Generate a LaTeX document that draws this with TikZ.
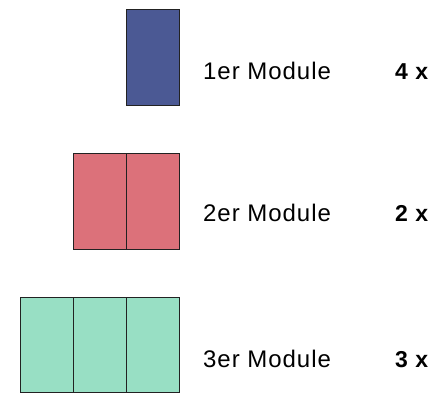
\documentclass[tikz,border=0pt]{standalone}
\usepackage{fontspec}
\setmainfont{Liberation Sans}
\newfontfamily\spaced[LetterSpace=4]{Liberation Sans}
\definecolor{modblue}{HTML}{4B5994}
\definecolor{modred}{HTML}{DC717A}
\definecolor{modgreen}{HTML}{98DFC4}
\definecolor{edge}{HTML}{222222}
\tikzset{
  cell/.style={draw=edge, line width=1pt},
  lbl/.style={anchor=base west, inner sep=0pt, font=\spaced\fontsize{24}{28}\selectfont},
  cnt/.style={anchor=base west, inner sep=0pt, font=\spaced\fontsize{23}{28}\selectfont\bfseries},
}
\begin{document}
\begin{tikzpicture}[x=1pt,y=-1pt]
\useasboundingbox (0,0) rectangle (442,393);
% row 1
\filldraw[cell, fill=modblue] (126,10) rectangle (179,105.5);
\node[lbl] (l1) at (203,79.5) {1er Module};
\node[cnt] (c1) at (395,79.5) {4 x};
% row 2
\filldraw[cell, fill=modred] (73,153.5) rectangle (126,249);
\filldraw[cell, fill=modred] (126,153.5) rectangle (179,249);
\node[lbl] (l2) at (203,222) {2er Module};
\node[cnt] (c2) at (395,222) {2 x};
% row 3
\filldraw[cell, fill=modgreen] (20,297.5) rectangle (73,392.5);
\filldraw[cell, fill=modgreen] (73,297.5) rectangle (126,392.5);
\filldraw[cell, fill=modgreen] (126,297.5) rectangle (179,392.5);
\node[lbl] (l3) at (203,367.5) {3er Module};
\node[cnt] (c3) at (395,367.5) {3 x};
\end{tikzpicture}
\end{document}
